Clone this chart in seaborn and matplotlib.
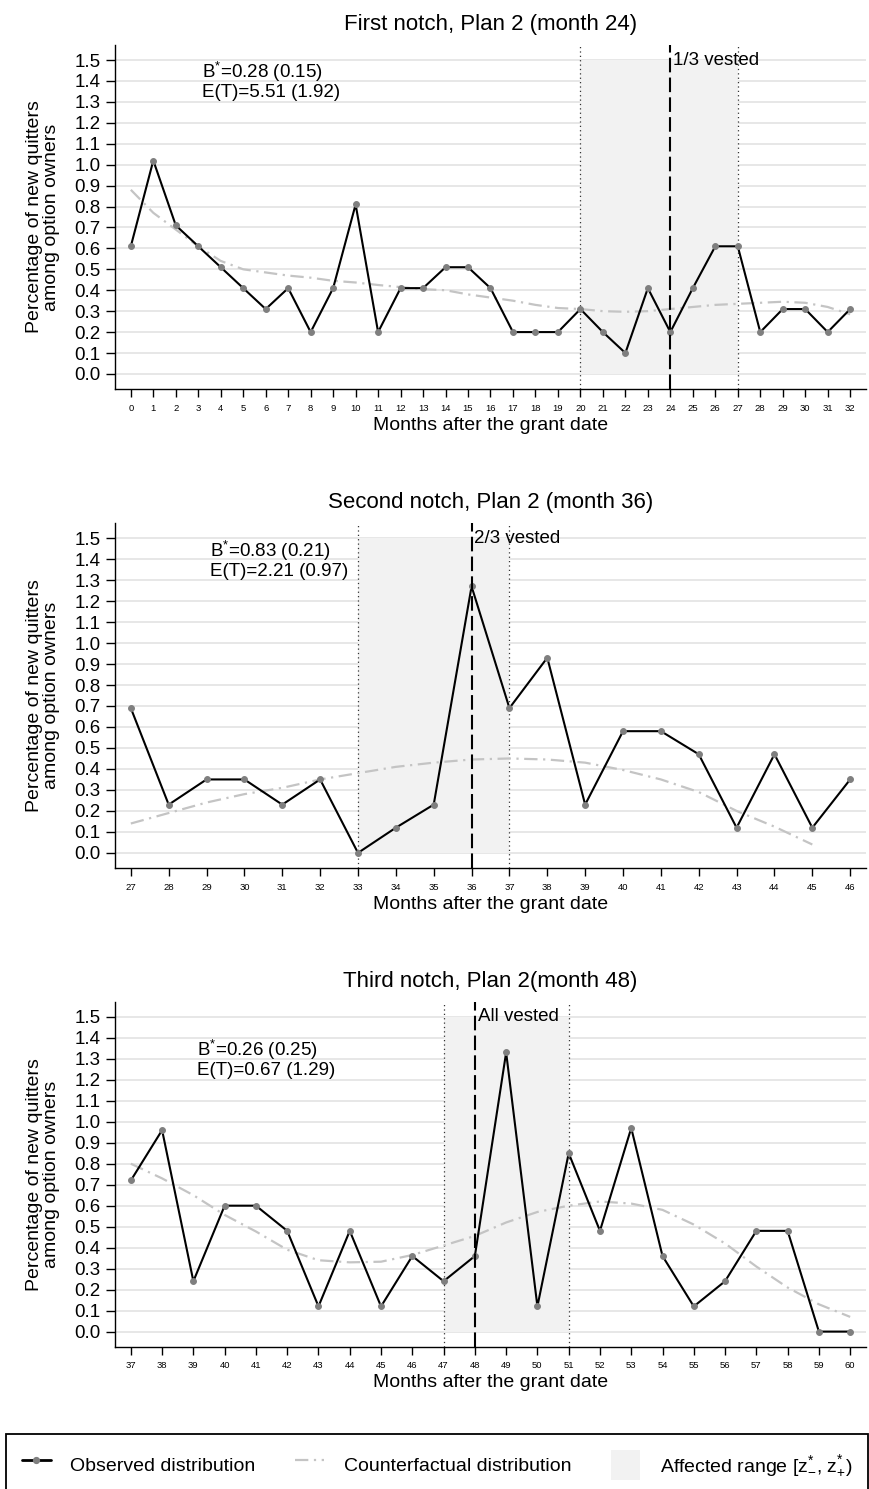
import matplotlib
matplotlib.use("Agg")
import matplotlib.pyplot as plt
from matplotlib.lines import Line2D
from matplotlib.patches import Patch
import pandas as pd
import seaborn as sns

# ---------------- data ----------------
months_1 = list(range(0, 33))
observed_1 = [0.61, 1.02, 0.71, 0.61, 0.51, 0.41, 0.31, 0.41, 0.20, 0.41, 0.81,
              0.20, 0.41, 0.41, 0.51, 0.51, 0.41, 0.20, 0.20, 0.20, 0.31, 0.20,
              0.10, 0.41, 0.20, 0.41, 0.61, 0.61, 0.20, 0.31, 0.31, 0.20, 0.31]
cf_months_1 = list(range(0, 33))
counterfactual_1 = [0.88, 0.77, 0.69, 0.61, 0.54, 0.50, 0.485, 0.47, 0.46, 0.445,
                    0.437, 0.425, 0.415, 0.405, 0.40, 0.38, 0.365, 0.35, 0.33,
                    0.315, 0.31, 0.30, 0.297, 0.30, 0.31, 0.32, 0.33, 0.335, 0.34,
                    0.345, 0.34, 0.32, 0.285]

months_2 = list(range(27, 47))
observed_2 = [0.69, 0.23, 0.35, 0.35, 0.23, 0.35, 0.00, 0.12, 0.23, 1.27, 0.69,
              0.93, 0.23, 0.58, 0.58, 0.47, 0.12, 0.47, 0.12, 0.35]
cf_months_2 = list(range(27, 46))
counterfactual_2 = [0.14, 0.19, 0.24, 0.28, 0.31, 0.35, 0.38, 0.41, 0.43, 0.445,
                    0.45, 0.445, 0.43, 0.395, 0.35, 0.29, 0.20, 0.125, 0.04]

months_3 = list(range(37, 61))
observed_3 = [0.72, 0.96, 0.24, 0.60, 0.60, 0.48, 0.12, 0.48, 0.12, 0.36, 0.24,
              0.36, 1.33, 0.12, 0.85, 0.48, 0.97, 0.36, 0.12, 0.24, 0.48, 0.48,
              0.00, 0.00]
cf_months_3 = list(range(37, 61))
counterfactual_3 = [0.80, 0.73, 0.65, 0.556, 0.477, 0.39, 0.34, 0.33, 0.333, 0.365,
                    0.41, 0.456, 0.52, 0.57, 0.60, 0.62, 0.61, 0.58, 0.51, 0.42,
                    0.31, 0.21, 0.13, 0.07]

titles = ["First notch, Plan 2 (month 24)",
          "Second notch, Plan 2 (month 36)",
          "Third notch, Plan 2(month 48)"]
notch_months = [24, 36, 48]
affected_low = [20, 33, 47]
affected_high = [27, 37, 51]
vested_labels = ["1/3 vested", "2/3 vested", "All vested"]
bunching_labels = [r"B$^{*}$=0.28 (0.15)", r"B$^{*}$=0.83 (0.21)", r"B$^{*}$=0.26 (0.25)"]
elasticity_labels = ["E(T)=5.51 (1.92)", "E(T)=2.21 (0.97)", "E(T)=0.67 (1.29)"]
y_ticks = [round(0.1 * i, 1) for i in range(16)]
legend_labels = ["Observed distribution", "Counterfactual distribution",
                 r"Affected range [z$_{-}^{*}$, z$_{+}^{*}$)"]

# ---------------- style ----------------
sns.set_theme(style="white")
plt.rcParams["font.family"] = ["Liberation Sans", "DejaVu Sans"]
plt.rcParams["mathtext.fontset"] = "custom"
plt.rcParams["mathtext.rm"] = "Liberation Sans"
plt.rcParams["mathtext.it"] = "Liberation Sans:italic"
plt.rcParams["mathtext.bf"] = "Liberation Sans:bold"
plt.rcParams["mathtext.default"] = "regular"
for key in ("text.color", "axes.labelcolor", "xtick.color", "ytick.color",
            "axes.titlecolor"):
    plt.rcParams[key] = "black"

W, H = 870, 1489
fig = plt.figure(figsize=(W / 100, H / 100), dpi=100)

panels = [
    (months_1, observed_1, cf_months_1, counterfactual_1, 45, 389, (3.16, 1.443, 1.343)),
    (months_2, observed_2, cf_months_2, counterfactual_2, 523, 868, (29.09, 1.438, 1.343)),
    (months_3, observed_3, cf_months_3, counterfactual_3, 1001.7, 1346.7, (39.11, 1.34, 1.245)),
]

GRAY_MARK = "#7f7f7f"
CF_COLOR = "#c4c4c4"
SHADE = "#f2f2f2"
GRID = "#e3e3e3"

for i, (mx, obs, cmx, cf, top_px, bot_px, txt) in enumerate(panels):
    left_px, right_px = 115, 866
    ax = fig.add_axes([left_px / W, 1 - bot_px / H, (right_px - left_px) / W,
                       (bot_px - top_px) / H])
    x0, x1 = mx[0], mx[-1]
    margin = 0.022 * (x1 - x0)
    ax.set_xlim(x0 - margin, x1 + margin)
    ax.set_ylim(-0.072, 1.572)

    ax.set_axisbelow(True)
    ax.yaxis.grid(True, color=GRID, linewidth=1.2, zorder=0)
    ax.xaxis.grid(False)

    # affected range shading
    ax.fill_between([affected_low[i], affected_high[i]], 0, 1.5, color=SHADE,
                    linewidth=0, zorder=1)
    for xv in (affected_low[i], affected_high[i]):
        ax.axvline(xv, color="#333333", linewidth=0.9, linestyle=(0, (1, 2.5)), zorder=1.5)

    df_cf = pd.DataFrame({"month": cmx, "value": cf})
    sns.lineplot(data=df_cf, x="month", y="value", ax=ax, color=CF_COLOR,
                 linewidth=1.6, linestyle=(0, (6, 2.5, 1, 2.5)), zorder=2)

    df_obs = pd.DataFrame({"month": mx, "value": obs})
    sns.lineplot(data=df_obs, x="month", y="value", ax=ax, color="black",
                 linewidth=1.5, marker="o", markersize=4.2,
                 markerfacecolor=GRAY_MARK, markeredgecolor=GRAY_MARK, zorder=3)

    ax.axvline(notch_months[i], color="black", linewidth=1.5,
               linestyle=(0, (7, 2.5)), zorder=4)
    ax.annotate(vested_labels[i], xy=(notch_months[i], 1.5), xytext=(2, 0),
                textcoords="offset points", ha="left", va="center", fontsize=13.5,
                color="black")

    ax.text(txt[0], txt[1], bunching_labels[i], ha="left", va="center", fontsize=13.5)
    ax.text(txt[0], txt[2], elasticity_labels[i], ha="left", va="center", fontsize=13.5)

    ax.set_xticks(mx)
    ax.set_xticklabels([str(m) for m in mx], fontsize=6.8)
    ax.set_yticks(y_ticks)
    ax.set_yticklabels([f"{v:.1f}" for v in y_ticks], fontsize=13.5)
    ax.tick_params(axis="y", direction="out", length=6.5, width=1.0, pad=4,
                   color="black", left=True)
    ax.tick_params(axis="x", direction="out", length=6, width=1.0, pad=4.5,
                   color="black", bottom=True)

    for side in ("top", "right"):
        ax.spines[side].set_visible(False)
    for side in ("left", "bottom"):
        ax.spines[side].set_color("black")
        ax.spines[side].set_linewidth(1.0)

    ax.set_title(titles[i], fontsize=16, pad=10.5)
    ax.set_xlabel("Months after the grant date", fontsize=14, labelpad=3)
    ax.set_ylabel("Percentage of new quitters\namong option owners", fontsize=14,
                  linespacing=1.0)
    ax.yaxis.set_label_coords(-0.073, 0.5)

handles = [
    Line2D([], [], color="black", linewidth=2.0, marker="o", markersize=4.2,
           markerfacecolor=GRAY_MARK, markeredgecolor=GRAY_MARK),
    Line2D([], [], color=CF_COLOR, linewidth=1.6, linestyle=(0, (6, 2.5, 1, 2.5))),
    Patch(facecolor=SHADE, edgecolor="none"),
]
leg = fig.legend(handles, legend_labels, loc="upper left",
                 bbox_to_anchor=(6 / W, 1 - 1434 / H, 862 / W, 0.0),
                 mode="expand", ncol=3, fontsize=14, frameon=True, fancybox=False,
                 borderpad=0.8, handlelength=1.5, handletextpad=1.0,
                 handleheight=2.0, columnspacing=2.5, borderaxespad=0)
frame = leg.get_frame()
frame.set_edgecolor("black")
frame.set_linewidth(1.3)
frame.set_facecolor("white")
frame.set_alpha(1)

fig.savefig("out.png", dpi=100)
